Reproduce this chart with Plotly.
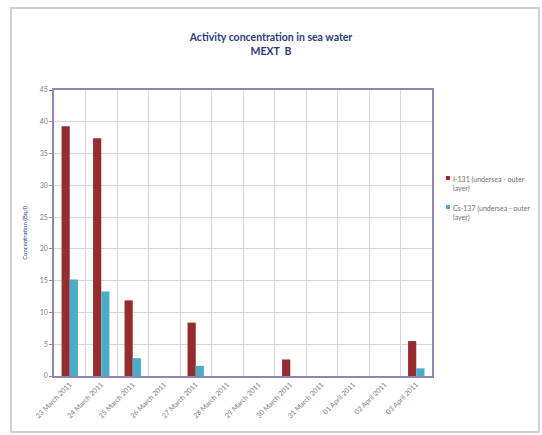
import plotly.graph_objects as go

dates = ["23 March 2011", "24 March 2011", "25 March 2011", "26 March 2011",
         "27 March 2011", "28 March 2011", "29 March 2011", "30 March 2011",
         "31 March 2011", "01 April 2011", "02 April 2011", "03 April 2011"]
i131 = [39.3, 37.4, 11.9, None, 8.4, None, None, 2.6, None, None, None, 5.5]
cs137 = [15.2, 13.3, 2.8, None, 1.6, None, None, None, None, None, None, 1.2]
series_names = ["I-131 (undersea - outer<br>layer)", "Cs-137 (undersea - outer<br>layer)"]
colors = ["#982B2E", "#4BADC5"]

FONT = "Lato, 'Open Sans', sans-serif"

fig = go.Figure()
for name, vals, col in zip(series_names, [i131, cs137], colors):
    fig.add_trace(go.Bar(x=dates, y=vals, name=name, marker_color=col,
                         marker_line_width=0, showlegend=False))

W, H = 542, 435
L, R, T, B = 54, 432, 90, 376
pw, ph = R - L, B - T

def px(x):
    return (x - L) / pw

def py(y):
    return (B - y) / ph

fig.update_layout(
    width=W, height=H,
    margin=dict(l=L, r=W - R, t=T, b=H - B),
    paper_bgcolor="white", plot_bgcolor="white",
    barmode="group", bargap=0.48, bargroupgap=0,
    font=dict(family=FONT, color="#595959"),
    title=dict(text="<b>Activity concentration in sea water</b><br><b>MEXT  B</b>",
               x=0.5, xref="container", xanchor="center",
               y=1 - 41 / H, yref="container", yanchor="top",
               font=dict(size=10.5, color="#2A3D78", family=FONT)),
    xaxis=dict(tickson="boundaries", showgrid=True, gridcolor="#D6D6E0", gridwidth=1,
               showline=True, linecolor="#8B86BA", linewidth=1.5, mirror=True,
               tickangle=-45, tickfont=dict(size=7, color="#808080"),
               ticks="", zeroline=False),
    yaxis=dict(range=[0, 45], dtick=5, showgrid=True, gridcolor="#D6D6E0", gridwidth=1,
               showline=True, linecolor="#8B86BA", linewidth=1.5, mirror=True,
               tickfont=dict(size=7, color="#808080"), ticks="outside", ticklen=3,
               tickcolor="#8B86BA", zeroline=False,
               title=dict(text="Concentration (Bq/l)", font=dict(size=6, color="#2A3D78"),
                          standoff=12)),
)

# outer chart border
fig.add_shape(type="rect", xref="paper", yref="paper",
              x0=px(11), x1=px(539), y0=py(432), y1=py(8),
              line=dict(color="#D0D0D0", width=2), fillcolor="rgba(0,0,0,0)")

# manual legend
leg_y = [178, 207]
for name, col, yy in zip(series_names, colors, leg_y):
    fig.add_shape(type="rect", xref="paper", yref="paper",
                  x0=px(446), x1=px(450), y0=py(yy + 2), y1=py(yy - 2),
                  line=dict(width=0), fillcolor=col)
    fig.add_annotation(xref="paper", yref="paper", x=px(451), y=py(yy - 5),
                       text=name, showarrow=False, xanchor="left", yanchor="top",
                       align="left", font=dict(size=7, color="#707070", family=FONT))

fig.write_html("out.html", config={"displayModeBar": False})

with open("out.html", encoding="utf-8") as f:
    html = f.read()
html = html.replace("<body>", "<body style=\"margin:0;overflow:hidden\">", 1)
with open("out.html", "w", encoding="utf-8") as f:
    f.write(html)
